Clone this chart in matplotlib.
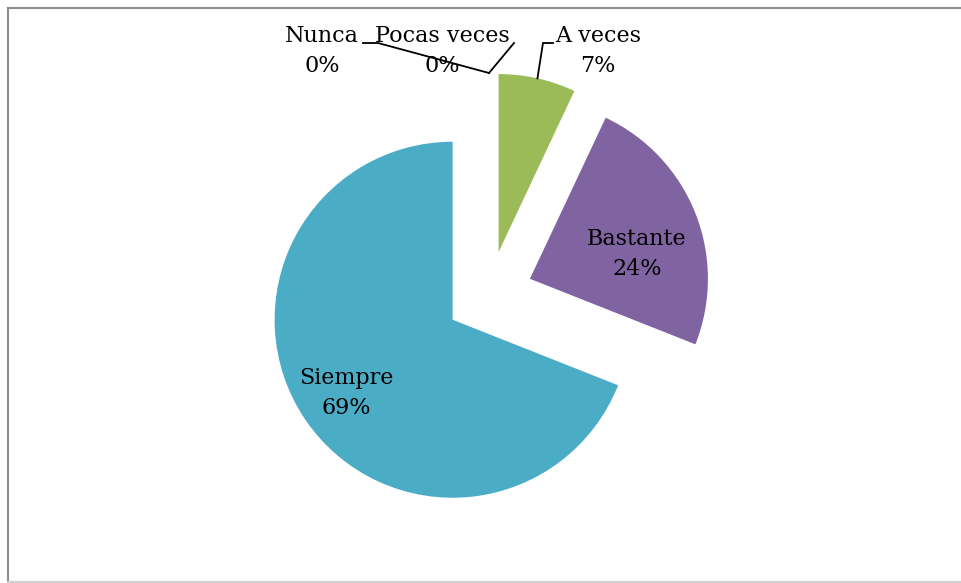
import numpy as np
import matplotlib
matplotlib.use("Agg")
import matplotlib.pyplot as plt

# Survey answers and their shares (%)
categories = ["Nunca", "Pocas veces", "A veces", "Bastante", "Siempre"]
values = [0, 0, 7, 24, 69]
colors = ["#4F81BD", "#C0504D", "#9BBB59", "#8064A2", "#4BACC6"]

W, H = 962, 583
fig = plt.figure(figsize=(W / 100, H / 100), dpi=100)
ax = fig.add_axes([0, 0, 1, 1])

# pie geometry in pixel units (y measured upward)
cx, cy = 489, H - 295
radius = 178
gap = 44

ax.pie(values, colors=colors, startangle=90, counterclock=False,
       explode=[gap] * len(values), center=(cx, cy), radius=radius,
       frame=True, wedgeprops=dict(linewidth=0))

ax.set_xlim(0, W)
ax.set_ylim(0, H)
ax.set_aspect("equal")
ax.axis("off")

font = dict(family="DejaVu Serif", fontsize=16, color="#000000",
            ha="center", va="center", linespacing=1.5)

def label(x, y, name, val):
    ax.text(x, H - y, f"{name}\n{val}%", **font)

# outer point of each slice along its mid-angle
total = float(sum(values))
mids = []
start = 90.0
for v in values:
    sweep = 360.0 * v / total
    mids.append(np.deg2rad(start - sweep / 2))
    start -= sweep

def anchor(i):
    a = mids[i]
    return cx + (radius + gap) * np.cos(a), cy + (radius + gap) * np.sin(a)

line = dict(color="black", lw=1.3, solid_joinstyle="miter")

# Nunca
label(322, 51, categories[0], values[0])
ax0, ay0 = anchor(0)
ax.plot([363, 378, ax0], [H - 43, H - 43, ay0], **line)

# Pocas veces
label(442, 51, categories[1], values[1])
ax1, ay1 = anchor(1)
ax.plot([ax1, 514], [ay1, H - 43], **line)

# A veces
label(598, 51, categories[2], values[2])
ax2, ay2 = anchor(2)
ax.plot([ax2, 543, 553], [ay2, H - 43, H - 43], **line)

# inside labels
label(637, 254, categories[3], values[3])
label(346, 393, categories[4], values[4])

# chart-area border
ax.plot([8, 8], [H - 7.5, H - 581], color="#8c8c8c", lw=1.5)
ax.plot([8, W], [H - 7.5, H - 7.5], color="#8c8c8c", lw=1.5)
ax.plot([8, W], [H - 582, H - 582], color="#d0d0d0", lw=1.5)

fig.savefig("out.png", dpi=100, facecolor="white")
